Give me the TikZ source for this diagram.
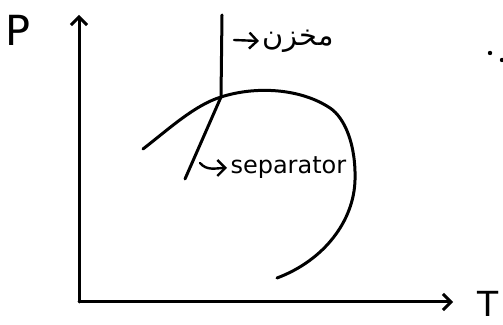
\documentclass[tikz,border=0pt]{standalone}
\usepackage{fontspec}
\setmainfont{DejaVu Sans}
\newfontfamily\arabicfont[Script=Arabic]{DejaVu Sans}
\TeXXeTstate=1
\usetikzlibrary{arrows.meta}

\begin{document}
\begin{tikzpicture}[x=0.5pt, y=-0.5pt, line width=1.5pt, line cap=round, line join=round,
    every node/.style={font=\large, inner sep=1pt},
    barb/.style={-{Straight Barb[length=4pt, width=8pt]}}]
      \useasboundingbox (0,0) rectangle (503,325);
      % axes
      \coordinate (o) at (79,302);
      \coordinate (ytop) at (79,15);
      \coordinate (xend) at (453,302);
      \draw[barb] (o) -- (ytop);
      \draw[barb] (o) -- (xend);
      \node (p) at (18,30) {\huge P};
      \node (t) at (488,304) {\LARGE T};
      % envelope
      \coordinate (crit) at (221,97);
      \draw (143,149) .. controls (170,128) and (195,105) .. (crit)
            .. controls (255,86) and (300,88) .. (330,108)
            .. controls (345,118) and (356,145) .. (355,180)
            .. controls (354,220) and (325,260) .. (277,278);
      % tank and separator lines
      \coordinate (vtop) at (222,15);
      \coordinate (sepend) at (185,179);
      \draw (vtop) -- (crit);
      \draw (crit) -- (sepend);
      \node (tank) at (298,41) {\Large\arabicfont\beginR مخزن\endR};
      \coordinate (tanktail) at (234,40);
      \draw[barb, line width=1.2pt] (tanktail) -- (tank.west);
      \node[anchor=west] (sep) at (227,168) {separator};
      \coordinate (septail) at (200,163);
      \draw[barb, line width=1.2pt] (septail) to[out=-50, in=180] (sep.west);
      \fill (490,53) circle (2.2);
      \fill (502,60) circle (2.2);
\end{tikzpicture}
\end{document}
